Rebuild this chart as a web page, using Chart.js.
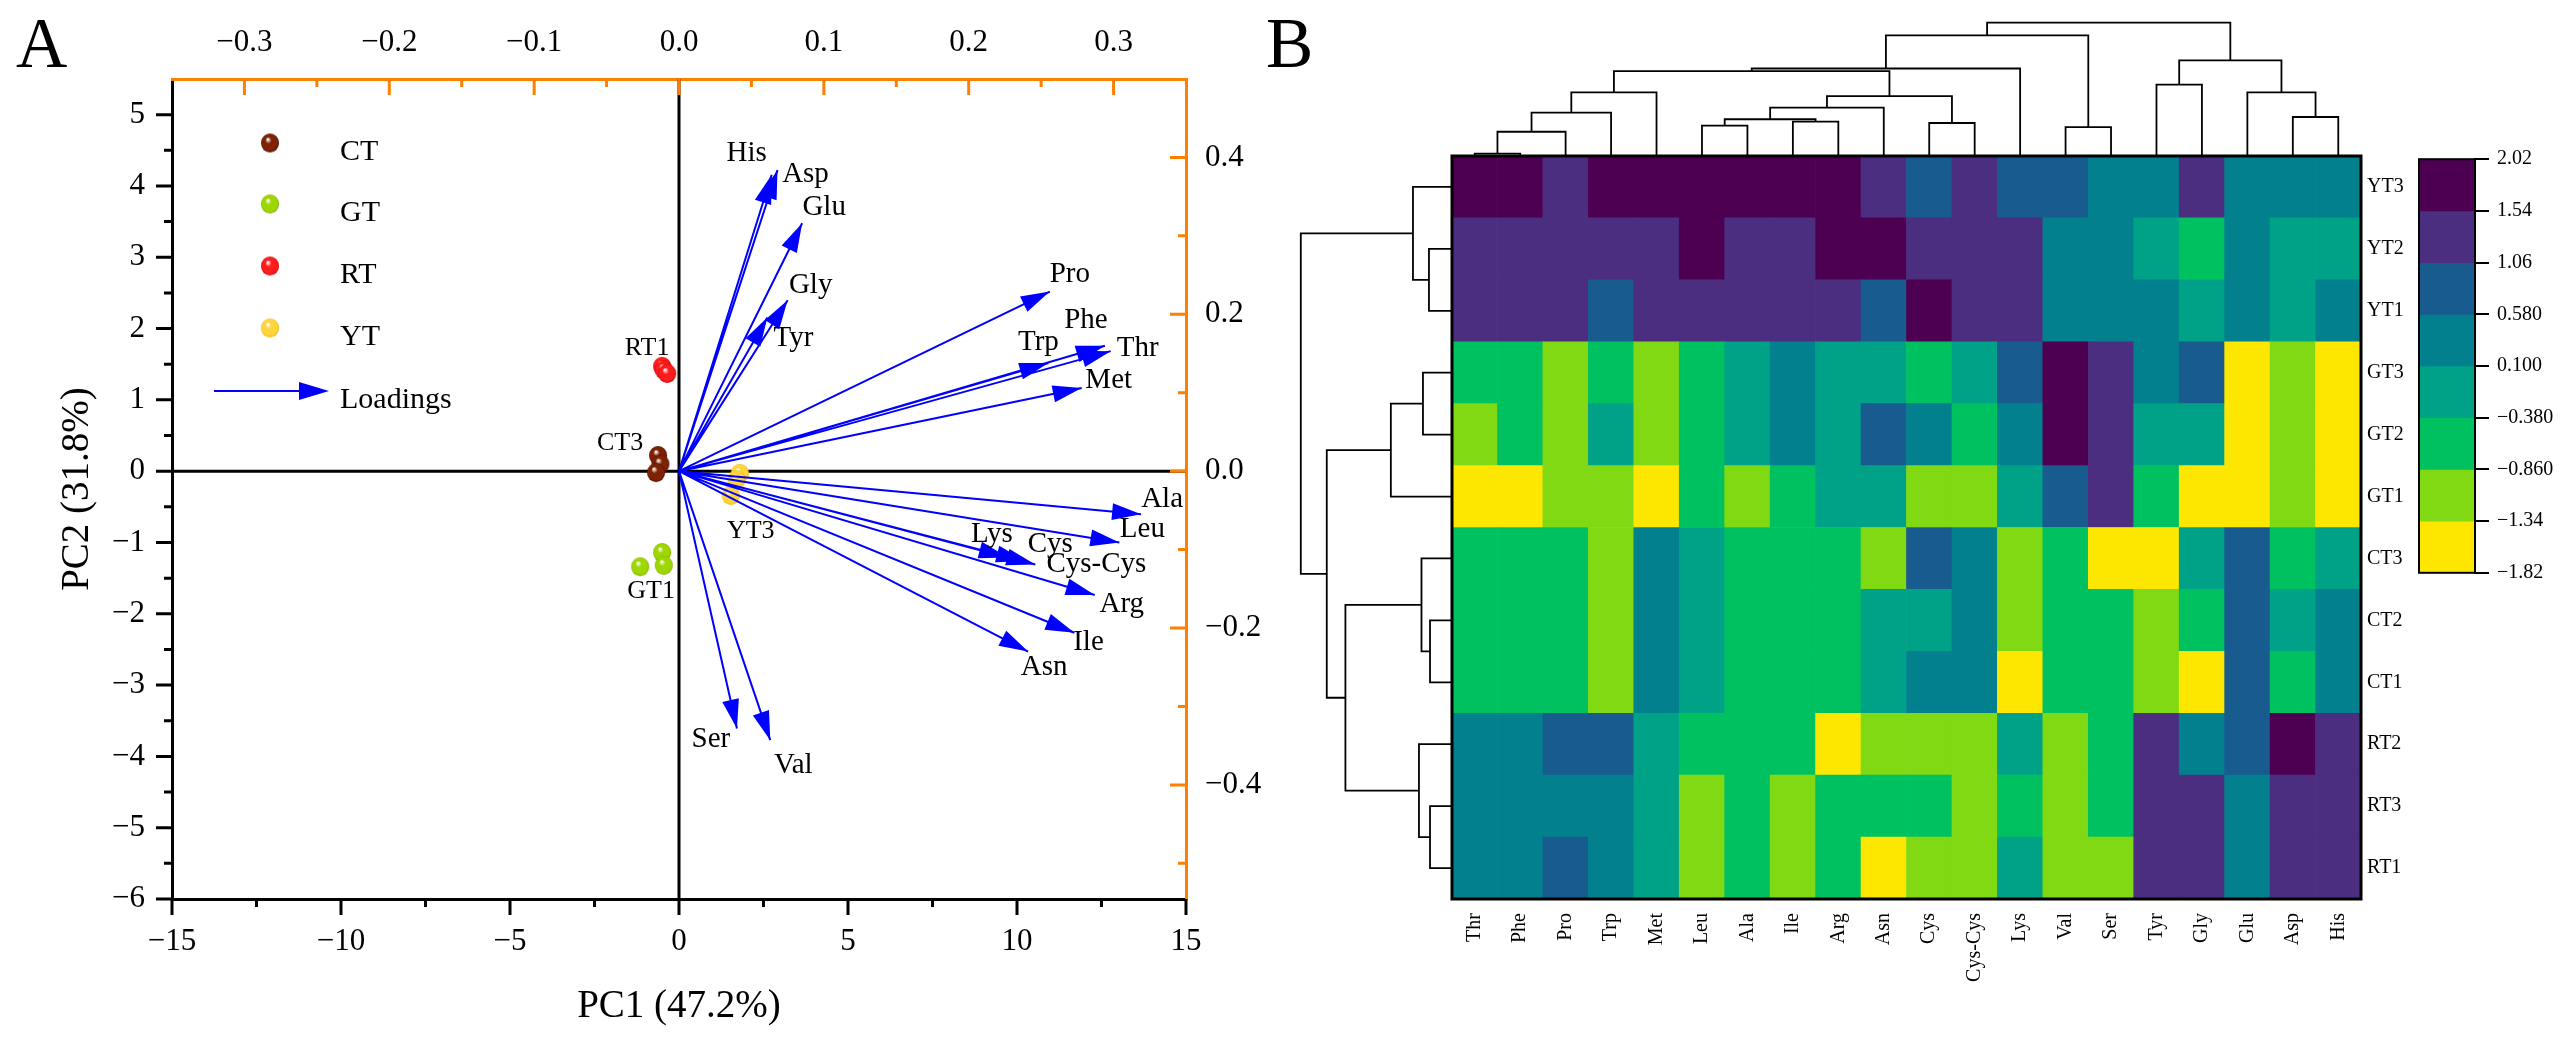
<!DOCTYPE html>
<html>
<head>
<meta charset="utf-8">
<title>PCA biplot and heatmap of amino acids</title>
<script src="https://cdn.jsdelivr.net/npm/chart.js@4.4.1/dist/chart.umd.min.js"></script>
<style>
  html, body { margin: 0; padding: 0; background: #fff; }
  body {
    width: 2566px; height: 1041px; position: relative; overflow: hidden;
    font-family: "Liberation Serif", "Times New Roman", serif; color: #000;
  }
  .box { position: absolute; }
  .panel-tag { position: absolute; font-size: 71px; line-height: 1; }
</style>
</head>
<body>
<div class="panel-tag" style="left:16px;top:8px">A</div>
<div class="panel-tag" style="left:1266px;top:8px">B</div>

<div class="box" style="left:0;top:0;width:1290px;height:1041px"><canvas id="pca"></canvas></div>
<div class="box" style="left:1452px;top:0;width:909px;height:157px"><canvas id="col-dendro"></canvas></div>
<div class="box" style="left:1290px;top:156px;width:162px;height:743px"><canvas id="row-dendro"></canvas></div>
<div class="box" style="left:1440px;top:140px;width:1000px;height:901px"><canvas id="heatmap"></canvas></div>
<div class="box" style="left:2400px;top:140px;width:166px;height:450px"><canvas id="colorbar"></canvas></div>

<script>
// ---------- panel A: PCA scores ----------
const scoreGroups = ["CT", "GT", "RT", "YT"];
const scoresCT = [{ x: -0.62, y: 0.22 }, { x: -0.55, y: 0.10 }, { x: -0.68, y: -0.02 }];
const scoresGT = [{ x: -1.15, y: -1.34 }, { x: -0.50, y: -1.14 }, { x: -0.45, y: -1.32 }];
const scoresRT = [{ x: -0.50, y: 1.47 }, { x: -0.45, y: 1.42 }, { x: -0.35, y: 1.37 }];
const scoresYT = [{ x: 1.80, y: -0.03 }, { x: 1.70, y: -0.12 }, { x: 1.53, y: -0.34 }];

// loadings (top / right axes)
const loadingNames = ["His", "Asp", "Glu", "Gly", "Tyr", "Pro", "Phe", "Thr", "Trp", "Met",
  "Ala", "Leu", "Lys", "Cys", "Cys-Cys", "Arg", "Ile", "Asn", "Ser", "Val"];
const loadingPC1 = [0.064, 0.068, 0.085, 0.075, 0.061, 0.256, 0.294, 0.298, 0.255, 0.278,
  0.319, 0.304, 0.227, 0.239, 0.246, 0.287, 0.273, 0.241, 0.040, 0.063];
const loadingPC2 = [0.378, 0.384, 0.316, 0.218, 0.196, 0.229, 0.160, 0.153, 0.138, 0.106,
  -0.055, -0.091, -0.110, -0.115, -0.119, -0.158, -0.206, -0.230, -0.328, -0.343];

const pc1Ticks = [-15, -10, -5, 0, 5, 10, 15];
const pc2Ticks = [-6, -5, -4, -3, -2, -1, 0, 1, 2, 3, 4, 5];
const loadTopTicks = [-0.3, -0.2, -0.1, 0, 0.1, 0.2, 0.3];
const loadRightTicks = [-0.4, -0.2, 0, 0.2, 0.4];

// ---------- panel B: heatmap ----------
const aminoCols = ["Thr", "Phe", "Pro", "Trp", "Met", "Leu", "Ala", "Ile", "Arg", "Asn",
  "Cys", "Cys-Cys", "Lys", "Val", "Ser", "Tyr", "Gly", "Glu", "Asp", "His"];
const sampleRows = ["YT3", "YT2", "YT1", "GT3", "GT2", "GT1", "CT3", "CT2", "CT1", "RT2", "RT3", "RT1"];

const zYT3 = [1.78, 1.78, 1.30, 1.78, 1.78, 1.78, 1.78, 1.78, 1.78, 1.30, 0.82, 1.30, 0.82, 0.82, 0.34, 0.34, 1.30, 0.34, 0.34, 0.34];
const zYT2 = [1.30, 1.30, 1.30, 1.30, 1.30, 1.78, 1.30, 1.30, 1.78, 1.78, 1.30, 1.30, 1.30, 0.34, 0.34, -0.14, -0.62, 0.34, -0.14, -0.14];
const zYT1 = [1.30, 1.30, 1.30, 0.82, 1.30, 1.30, 1.30, 1.30, 1.30, 0.82, 1.78, 1.30, 1.30, 0.34, 0.34, 0.34, -0.14, 0.34, -0.14, 0.34];
const zGT3 = [-0.62, -0.62, -1.10, -0.62, -1.10, -0.62, -0.14, 0.34, -0.14, -0.14, -0.62, -0.14, 0.82, 1.78, 1.30, 0.34, 0.82, -1.58, -1.10, -1.58];
const zGT2 = [-1.10, -0.62, -1.10, -0.14, -1.10, -0.62, -0.14, 0.34, -0.14, 0.82, 0.34, -0.62, 0.34, 1.78, 1.30, -0.14, -0.14, -1.58, -1.10, -1.58];
const zGT1 = [-1.58, -1.58, -1.10, -1.10, -1.58, -0.62, -1.10, -0.62, -0.14, -0.14, -1.10, -1.10, -0.14, 0.82, 1.30, -0.62, -1.58, -1.58, -1.10, -1.58];
const zCT3 = [-0.62, -0.62, -0.62, -1.10, 0.34, -0.14, -0.62, -0.62, -0.62, -1.10, 0.82, 0.34, -1.10, -0.62, -1.58, -1.58, -0.14, 0.82, -0.62, -0.14];
const zCT2 = [-0.62, -0.62, -0.62, -1.10, 0.34, -0.14, -0.62, -0.62, -0.62, -0.14, -0.14, 0.34, -1.10, -0.62, -0.62, -1.10, -0.62, 0.82, -0.14, 0.34];
const zCT1 = [-0.62, -0.62, -0.62, -1.10, 0.34, -0.14, -0.62, -0.62, -0.62, -0.14, 0.34, 0.34, -1.58, -0.62, -0.62, -1.10, -1.58, 0.82, -0.62, 0.34];
const zRT2 = [0.34, 0.34, 0.82, 0.82, -0.14, -0.62, -0.62, -0.62, -1.58, -1.10, -1.10, -1.10, -0.14, -1.10, -0.62, 1.30, 0.34, 0.82, 1.78, 1.30];
const zRT3 = [0.34, 0.34, 0.34, 0.34, -0.14, -1.10, -0.62, -1.10, -0.62, -0.62, -0.62, -1.10, -0.62, -1.10, -0.62, 1.30, 1.30, 0.34, 1.30, 1.30];
const zRT1 = [0.34, 0.34, 0.82, 0.34, -0.14, -1.10, -0.62, -1.10, -0.62, -1.58, -1.10, -1.10, -0.14, -1.10, -1.10, 1.30, 1.30, 0.34, 1.30, 1.30];
const heatValues = [zYT3, zYT2, zYT1, zGT3, zGT2, zGT1, zCT3, zCT2, zCT1, zRT2, zRT3, zRT1];

const colorBreaks = [2.02, 1.54, 1.06, 0.58, 0.10, -0.38, -0.86, -1.34, -1.82];
const colorBreakLabels = ["2.02", "1.54", "1.06", "0.580", "0.100", "\u22120.380", "\u22120.860", "\u22121.34", "\u22121.82"];
const colorBands = ["#4d0052", "#4b2e80", "#185b8f", "#02808e", "#00a287", "#00c160", "#81d914", "#fde600"];

// dendrograms: [left node, right node, height]; leaves are 0..n-1, merges numbered from n
const colMerges = [
  [0, 1, 0.25], [20, 2, 1.88], [21, 3, 3.31], [22, 4, 4.81],
  [5, 6, 2.33], [7, 8, 2.63], [24, 25, 2.81], [26, 9, 3.68],
  [10, 11, 2.53], [27, 28, 4.54], [23, 29, 6.39], [30, 12, 6.59],
  [13, 14, 2.23], [31, 32, 9.05], [15, 16, 5.39], [18, 19, 2.98],
  [17, 35, 4.81], [34, 36, 7.19], [33, 37, 10.0]
];
const rowMerges = [
  [1, 2, 1.73], [0, 12, 2.93], [3, 4, 2.18], [14, 5, 4.59],
  [7, 8, 1.65], [6, 16, 2.29], [10, 11, 1.65], [9, 18, 2.48],
  [17, 19, 8.0], [15, 20, 9.4], [13, 21, 11.35]
];

// ---------- helpers ----------
const SERIF = '"Liberation Serif", "Times New Roman", serif';
const ORANGE = "#ff8000";
Chart.defaults.font.family = SERIF;
Chart.defaults.color = "#000";

function signed(v, digits) {
  const s = digits == null ? String(v) : v.toFixed(digits);
  return s.replace("-", "\u2212");
}

function fixBox(size) {
  return (scale) => {
    if (scale.isHorizontal()) scale.height = size;
    else scale.width = size;
    scale.paddingLeft = scale.paddingRight = scale.paddingTop = scale.paddingBottom = 0;
  };
}

function setTicks(values) {
  return (scale) => { scale.ticks = values.map((v) => ({ value: v })); };
}

// small shaded sphere used as point style
function makeBall(color, dark, r) {
  const c = document.createElement("canvas");
  const w = r * 2 + 2;
  const h = Math.round(r * 2.1) + 2;
  c.width = w;
  c.height = h;
  const g = c.getContext("2d");
  g.translate(w / 2, h / 2);
  g.scale(1, 1.05);
  const grad = g.createRadialGradient(-r * 0.25, -r * 0.4, r * 0.05, 0, 0, r);
  grad.addColorStop(0, "#ffffff");
  grad.addColorStop(0.32, color);
  grad.addColorStop(0.85, color);
  grad.addColorStop(1, dark);
  g.fillStyle = grad;
  g.beginPath();
  g.arc(0, 0, r, 0, Math.PI * 2);
  g.fill();
  return c;
}

const balls = {
  CT: makeBall("#7f2204", "#4a0d00", 9),
  GT: makeBall("#9ed600", "#78b000", 9),
  RT: makeBall("#ff1c1c", "#c80000", 9),
  YT: makeBall("#ffd43c", "#f0b400", 9),
};

// label offsets in pixels from the arrow tip / group point
const loadingLabelOffsets = {
  His: [-25, -21], Asp: [28, 4], Glu: [22, -16], Gly: [23, -15], Tyr: [26, 21],
  Pro: [20, -17], Phe: [-19, -25], Thr: [27, -3], Trp: [-10, -21], Met: [27, -8],
  Ala: [21, -15], Leu: [23, -13], Lys: [-16, -23], Cys: [25, -17], "Cys-Cys": [61, 0],
  Arg: [27, 9], Ile: [14, 10], Asn: [16, 16], Ser: [-26, 11], Val: [23, 25],
};
const pointLabels = [
  { group: "RT", index: 0, text: "RT1", dx: -15, dy: -18 },
  { group: "CT", index: 0, text: "CT3", dx: -38, dy: -12 },
  { group: "YT", index: 2, text: "YT3", dx: 20, dy: 36 },
  { group: "GT", index: 0, text: "GT1", dx: 11, dy: 24 },
];

// ---------- panel A ----------
const scoreSets = { CT: scoresCT, GT: scoresGT, RT: scoresRT, YT: scoresYT };

const shaftData = [];
loadingNames.forEach((name, i) => {
  shaftData.push({ x: 0, y: 0 }, { x: loadingPC1[i], y: loadingPC2[i] }, { x: null, y: null });
});

function drawArrowHead(ctx, ox, oy, tx, ty, len, half) {
  const dx = tx - ox;
  const dy = ty - oy;
  const d = Math.hypot(dx, dy) || 1;
  const ux = dx / d;
  const uy = dy / d;
  const bx = tx - ux * len;
  const by = ty - uy * len;
  ctx.beginPath();
  ctx.moveTo(tx, ty);
  ctx.lineTo(bx - uy * half, by + ux * half);
  ctx.lineTo(bx + uy * half, by - ux * half);
  ctx.closePath();
  ctx.fill();
}

const pcaDecor = {
  id: "pcaDecor",
  beforeDatasetsDraw(chart) {
    const { ctx, chartArea: a, scales } = chart;
    const x0 = scales.x.getPixelForValue(0);
    const y0 = scales.y.getPixelForValue(0);
    ctx.save();
    ctx.strokeStyle = "#000";
    ctx.lineWidth = 3;
    ctx.beginPath();
    ctx.moveTo(x0, a.top);
    ctx.lineTo(x0, a.bottom);
    ctx.moveTo(a.left, y0);
    ctx.lineTo(a.right, y0);
    ctx.stroke();
    ctx.restore();
  },
  afterDatasetsDraw(chart) {
    const { ctx, chartArea: a, scales } = chart;
    const { x2, y2, x, y } = scales;
    ctx.save();
    // arrow heads
    ctx.fillStyle = "#0000ff";
    const ox = x2.getPixelForValue(0);
    const oy = y2.getPixelForValue(0);
    loadingNames.forEach((name, i) => {
      const tx = x2.getPixelForValue(loadingPC1[i]);
      const ty = y2.getPixelForValue(loadingPC2[i]);
      drawArrowHead(ctx, ox, oy, tx, ty, 29, 8.5);
    });
    // loading labels
    ctx.fillStyle = "#000";
    ctx.font = "29px " + SERIF;
    ctx.textAlign = "center";
    ctx.textBaseline = "middle";
    loadingNames.forEach((name, i) => {
      const tx = x2.getPixelForValue(loadingPC1[i]);
      const ty = y2.getPixelForValue(loadingPC2[i]);
      const off = loadingLabelOffsets[name];
      ctx.fillText(name, tx + off[0], ty + off[1]);
    });
    // sample labels
    ctx.font = "26px " + SERIF;
    pointLabels.forEach((p) => {
      const pt = scoreSets[p.group][p.index];
      ctx.fillText(p.text, x.getPixelForValue(pt.x) + p.dx, y.getPixelForValue(pt.y) + p.dy);
    });
    // legend
    const lx = a.left + 98;
    const ly = [a.top + 64, a.top + 125, a.top + 187, a.top + 249];
    ctx.textAlign = "left";
    ctx.textBaseline = "alphabetic";
    ctx.font = "30px " + SERIF;
    scoreGroups.forEach((g, i) => {
      const img = balls[g];
      ctx.drawImage(img, lx - img.width / 2, ly[i] - img.height / 2);
      ctx.fillText(g, lx + 70, ly[i] + 17);
    });
    const ay = a.top + 312;
    ctx.strokeStyle = "#0000ff";
    ctx.fillStyle = "#0000ff";
    ctx.lineWidth = 2;
    ctx.beginPath();
    ctx.moveTo(a.left + 42, ay);
    ctx.lineTo(a.left + 135, ay);
    ctx.stroke();
    drawArrowHead(ctx, a.left + 42, ay, a.left + 157, ay, 30, 9);
    ctx.fillStyle = "#000";
    ctx.fillText("Loadings", lx + 70, ay + 17);
    ctx.restore();
  },
  afterDraw(chart) {
    const { ctx, chartArea: a, scales } = chart;
    const { x, y, x2, y2 } = scales;
    const major = 16;
    const minor = 8;
    ctx.save();
    ctx.lineWidth = 3;
    function marks(color, values, len, draw) {
      ctx.strokeStyle = color;
      ctx.beginPath();
      values.forEach((v) => draw(v, len));
      ctx.stroke();
    }
    const mid = (arr) => arr.slice(1).map((v, i) => (v + arr[i]) / 2);
    // bottom (outward)
    const bx = (v, len) => { const p = x.getPixelForValue(v); ctx.moveTo(p, a.bottom); ctx.lineTo(p, a.bottom + len); };
    marks("#000", pc1Ticks, major, bx);
    marks("#000", mid(pc1Ticks), minor, bx);
    // left (outward)
    const lyF = (v, len) => { const p = y.getPixelForValue(v); ctx.moveTo(a.left, p); ctx.lineTo(a.left - len, p); };
    marks("#000", pc2Ticks, major, lyF);
    marks("#000", mid(pc2Ticks), minor, lyF);
    // top (inward)
    const tx = (v, len) => { const p = x2.getPixelForValue(v); ctx.moveTo(p, a.top); ctx.lineTo(p, a.top + len); };
    marks(ORANGE, loadTopTicks, major, tx);
    marks(ORANGE, mid(loadTopTicks), minor, tx);
    // right (inward), minor ticks at odd tenths
    const ry = (v, len) => { const p = y2.getPixelForValue(v); ctx.moveTo(a.right, p); ctx.lineTo(a.right - len, p); };
    const rMinor = mid(loadRightTicks).concat([loadRightTicks[0] - 0.1]);
    marks(ORANGE, loadRightTicks, major, ry);
    marks(ORANGE, rMinor, minor, ry);
    ctx.restore();
  },
};

const tickFont = { size: 31, family: SERIF };

new Chart(document.getElementById("pca"), {
  type: "scatter",
  data: {
    datasets: [
      {
        label: "Loadings",
        data: shaftData,
        xAxisID: "x2",
        yAxisID: "y2",
        showLine: true,
        spanGaps: false,
        borderColor: "#0000ff",
        borderWidth: 2,
        pointRadius: 0,
      },
    ].concat(scoreGroups.map((g) => ({
      label: g,
      data: scoreSets[g],
      xAxisID: "x",
      yAxisID: "y",
      pointStyle: balls[g],
      pointRadius: 9,
    }))),
  },
  options: {
    responsive: true,
    maintainAspectRatio: false,
    animation: false,
    events: [],
    layout: { padding: 0 },
    plugins: { legend: { display: false }, tooltip: { enabled: false } },
    scales: {
      x: {
        type: "linear", position: "bottom", min: -15, max: 15,
        grid: { display: false, drawTicks: false },
        border: { display: true, color: "#000", width: 3 },
        ticks: { font: tickFont, padding: 24, callback: (v) => signed(v) },
        afterBuildTicks: setTicks(pc1Ticks),
        afterFit: fixBox(142),
        title: { display: true, text: "PC1 (47.2%)", font: { size: 39, family: SERIF }, padding: { top: 0, bottom: 11 } },
      },
      y: {
        type: "linear", position: "left", min: -6, max: 5.5,
        grid: { display: false, drawTicks: false },
        border: { display: true, color: "#000", width: 3 },
        ticks: { font: tickFont, padding: 27, callback: (v) => signed(v) },
        afterBuildTicks: setTicks(pc2Ticks),
        afterFit: fixBox(172),
        title: { display: true, text: "PC2 (31.8%)", font: { size: 39, family: SERIF }, padding: { top: 54, bottom: 0 } },
      },
      x2: {
        type: "linear", position: "top", min: -0.35, max: 0.35,
        grid: { display: false, drawTicks: false },
        border: { display: true, color: ORANGE, width: 3 },
        ticks: { font: tickFont, padding: 18, callback: (v) => signed(v, 1) },
        afterBuildTicks: setTicks(loadTopTicks),
        afterFit: fixBox(79),
      },
      y2: {
        type: "linear", position: "right", min: -0.5455, max: 0.5,
        grid: { display: false, drawTicks: false },
        border: { display: true, color: ORANGE, width: 3 },
        ticks: { font: tickFont, padding: 19, callback: (v) => signed(v, 1) },
        afterBuildTicks: setTicks(loadRightTicks),
        afterFit: fixBox(104),
      },
    },
  },
  plugins: [pcaDecor],
});

// ---------- panel B ----------
function bandColor(v) {
  for (let k = 0; k < colorBands.length; k++) {
    if (v <= colorBreaks[k] && v > colorBreaks[k + 1]) return colorBands[k];
  }
  return v > colorBreaks[0] ? colorBands[0] : colorBands[colorBands.length - 1];
}

function dendroDatasets(merges, nLeaves, horizontal) {
  const pos = [];
  const height = [];
  for (let i = 0; i < nLeaves; i++) { pos.push(i + 0.5); height.push(0); }
  const sets = [];
  merges.forEach(([a, b, h]) => {
    const pts = [[pos[a], height[a]], [pos[a], h], [pos[b], h], [pos[b], height[b]]];
    sets.push({
      data: pts.map(([p, q]) => (horizontal ? { x: q, y: p } : { x: p, y: q })),
      showLine: true,
      borderColor: "#000",
      borderWidth: 1.8,
      pointRadius: 0,
      clip: false,
    });
    pos.push((pos[a] + pos[b]) / 2);
    height.push(h);
  });
  return sets;
}

const hiddenLinear = (min, max, reverse) => ({ type: "linear", display: false, min, max, reverse: !!reverse });
const baseOpts = {
  responsive: true,
  maintainAspectRatio: false,
  animation: false,
  events: [],
  layout: { padding: 0 },
  plugins: { legend: { display: false }, tooltip: { enabled: false } },
};

new Chart(document.getElementById("col-dendro"), {
  type: "scatter",
  data: { datasets: dendroDatasets(colMerges, aminoCols.length, false) },
  options: Object.assign({}, baseOpts, {
    scales: { x: hiddenLinear(0, aminoCols.length), y: hiddenLinear(0, 11.69) },
  }),
});

new Chart(document.getElementById("row-dendro"), {
  type: "scatter",
  data: { datasets: dendroDatasets(rowMerges, sampleRows.length, true) },
  options: Object.assign({}, baseOpts, {
    scales: { x: hiddenLinear(0, 12.16, true), y: hiddenLinear(0, sampleRows.length, true) },
  }),
});

const frame = {
  id: "frame",
  afterDraw(chart) {
    const { ctx, chartArea: a } = chart;
    ctx.save();
    ctx.strokeStyle = "#000";
    ctx.lineWidth = chart.options.frameWidth || 2.5;
    ctx.strokeRect(a.left, a.top, a.right - a.left, a.bottom - a.top);
    ctx.restore();
  },
};

// rows are stacked bottom-up, so the last listed row is the first dataset
const rowsBottomUp = sampleRows.slice().reverse();
const valuesBottomUp = heatValues.slice().reverse();

new Chart(document.getElementById("heatmap"), {
  type: "bar",
  data: {
    labels: aminoCols,
    datasets: rowsBottomUp.map((name, r) => ({
      label: name,
      data: valuesBottomUp[r].map(() => 1),
      backgroundColor: valuesBottomUp[r].map(bandColor),
      borderWidth: 0,
      barPercentage: 1,
      categoryPercentage: 1,
    })),
  },
  options: Object.assign({}, baseOpts, {
    layout: { padding: { left: 12, top: 16, right: 0, bottom: 0 } },
    frameWidth: 3,
    scales: {
      x: {
        type: "category", stacked: true,
        grid: { display: false, drawTicks: false },
        border: { display: false },
        ticks: { font: { size: 20, family: SERIF }, padding: 14, minRotation: 90, maxRotation: 90, autoSkip: false },
        afterFit: fixBox(142),
      },
      y: {
        type: "linear", position: "right", stacked: true, min: 0, max: sampleRows.length,
        grid: { display: false, drawTicks: false },
        border: { display: false },
        ticks: { font: { size: 20, family: SERIF }, padding: 6, callback: (v) => rowsBottomUp[Math.floor(v)] },
        afterBuildTicks: setTicks(rowsBottomUp.map((_, i) => i + 0.5)),
        afterFit: fixBox(79),
      },
    },
  }),
  plugins: [frame],
});

new Chart(document.getElementById("colorbar"), {
  type: "bar",
  data: {
    labels: [""],
    datasets: colorBands.map((c, k) => ({
      data: [[colorBreaks[k + 1], colorBreaks[k]]],
      backgroundColor: c,
      borderWidth: 0,
      grouped: false,
      barPercentage: 1,
      categoryPercentage: 1,
    })),
  },
  options: Object.assign({}, baseOpts, {
    layout: { padding: { left: 19, top: 19.2, right: 0, bottom: 17.2 } },
    frameWidth: 2,
    scales: {
      x: { type: "category", display: false },
      y: {
        type: "linear", position: "right", min: colorBreaks[colorBreaks.length - 1], max: colorBreaks[0],
        grid: { display: true, drawOnChartArea: false, drawTicks: true, tickLength: 14, color: "#000", lineWidth: 2 },
        border: { display: true, color: "#000", width: 2 },
        ticks: {
          font: { size: 20, family: SERIF }, padding: 8,
          callback: (v) => colorBreakLabels[colorBreaks.indexOf(v)],
        },
        afterBuildTicks: setTicks(colorBreaks),
        afterFit: fixBox(91),
      },
    },
  }),
  plugins: [frame],
});
</script>
</body>
</html>
